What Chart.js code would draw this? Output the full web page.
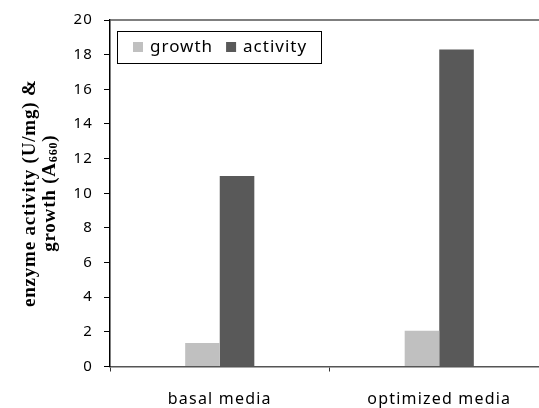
<!DOCTYPE html>
<html>
<head>
<meta charset="utf-8">
<script src="https://cdn.jsdelivr.net/npm/chart.js@4.4.0/dist/chart.umd.min.js"></script>
<style>
  html, body { margin: 0; padding: 0; background: #fff; overflow: hidden; }
</style>
</head>
<body>
<canvas id="chart" width="549" height="408"></canvas>
<script>
// categories and values
var categories = ["basal media", "optimized media"];
var growth = [1.35, 2.07];
var activity = [11.0, 18.3];
var yTicks = [0, 2, 4, 6, 8, 10, 12, 14, 16, 18, 20];
var titleLine1 = 'enzyme activity (U/mg) &';
var titleLine2 = ['growth (A', '660', ')'];

// excel-ish wide letter spacing for the axis labels
var spacing = {
  id: 'spacing',
  beforeDraw: function (chart) { chart.ctx.letterSpacing = '1.2px'; }
};

// legend inside the plot with a border, y title with a subscript, top border
var extras = {
  id: 'extras',
  afterDraw: function (chart) {
    var ctx = chart.ctx;
    var area = chart.chartArea;
    ctx.save();

    // legend
    var x0 = area.left + 7, y0 = 31, w = 204, h = 32;
    ctx.strokeStyle = '#000';
    ctx.lineWidth = 1;
    ctx.strokeRect(x0 + 0.5, y0 + 0.5, w, h);
    ctx.font = '17px "Noto Sans"';
    ctx.letterSpacing = '1px';
    ctx.textBaseline = 'middle';
    var x = x0 + 16;
    chart.data.datasets.forEach(function (ds) {
      ctx.fillStyle = ds.backgroundColor;
      ctx.fillRect(x, y0 + 11, 10, 10);
      x += 17;
      ctx.fillStyle = '#000';
      ctx.fillText(ds.label, x, y0 + 16);
      x += ctx.measureText(ds.label).width + 13;
    });

    // top border of the plot
    ctx.strokeStyle = '#555';
    ctx.lineWidth = 1.5;
    ctx.beginPath();
    ctx.moveTo(area.left, area.top);
    ctx.lineTo(area.right, area.top);
    ctx.stroke();

    // rotated y title, two lines
    var cy = (area.top + area.bottom) / 2;
    ctx.fillStyle = '#000';
    ctx.textBaseline = 'middle';
    ctx.textAlign = 'left';
    ctx.letterSpacing = '0.8px';
    var big = 'bold 19px "Liberation Serif"';
    var small = 'bold 12px "Liberation Serif"';

    ctx.save();
    ctx.translate(30, cy);
    ctx.rotate(-Math.PI / 2);
    ctx.font = big;
    var w1 = ctx.measureText(titleLine1).width;
    ctx.fillText(titleLine1, -w1 / 2, 0);
    ctx.restore();

    ctx.save();
    ctx.translate(50, cy);
    ctx.rotate(-Math.PI / 2);
    ctx.font = big;
    var a = ctx.measureText(titleLine2[0]).width;
    var c = ctx.measureText(titleLine2[2]).width;
    ctx.font = small;
    var b = ctx.measureText(titleLine2[1]).width;
    var px = -(a + b + c) / 2;
    ctx.font = big;
    ctx.fillText(titleLine2[0], px, 0);
    ctx.font = small;
    ctx.fillText(titleLine2[1], px + a, 4);
    ctx.font = big;
    ctx.fillText(titleLine2[2], px + a + b, 0);
    ctx.restore();

    ctx.restore();
  }
};

var ctx = document.getElementById('chart').getContext('2d');
var chart = new Chart(ctx, {
  type: 'bar',
  data: {
    labels: categories,
    datasets: [{
      label: 'growth',
      data: growth,
      backgroundColor: '#c0c0c0',
      categoryPercentage: 0.315,
      barPercentage: 1
    }, {
      label: 'activity',
      data: activity,
      backgroundColor: '#595959',
      categoryPercentage: 0.315,
      barPercentage: 1
    }]
  },
  options: {
    responsive: false,
    animation: false,
    layout: { padding: { top: 20, right: 0, left: 0, bottom: 0 } },
    plugins: {
      legend: { display: false },
      tooltip: { enabled: false }
    },
    scales: {
      x: {
        grid: { offset: true, drawOnChartArea: false, tickLength: 5, color: '#333', lineWidth: 1 },
        border: { color: '#555', width: 1.5 },
        ticks: { color: '#000', padding: 18, font: { family: 'Noto Sans', size: 16 } },
        afterFit: function (s) { s.height = 41.5; }
      },
      y: {
        min: 0,
        max: 20,
        afterBuildTicks: function (s) { s.ticks = yTicks.map(function (v) { return { value: v }; }); },
        grid: { drawOnChartArea: false, tickLength: 6, color: '#000', lineWidth: 1 },
        border: { color: '#000', width: 1.5 },
        ticks: { color: '#000', padding: 11, font: { family: 'Noto Sans', size: 15 } },
        afterFit: function (s) { s.width = 110; }
      }
    }
  },
  plugins: [spacing, extras]
});
</script>
</body>
</html>
